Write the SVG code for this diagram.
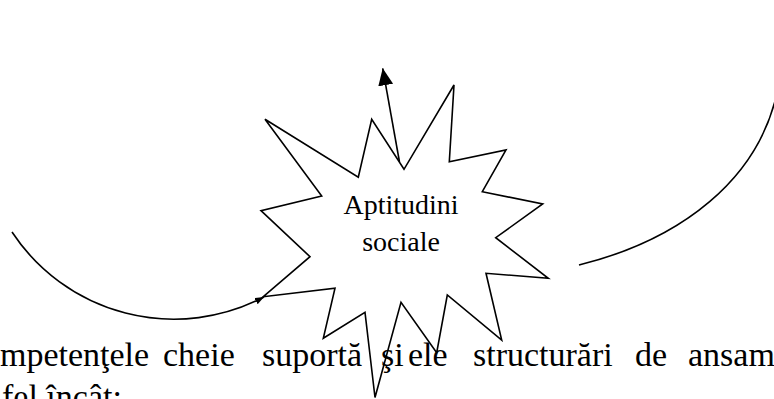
<svg xmlns="http://www.w3.org/2000/svg" width="774" height="399" viewBox="0 0 774 399">
<style>
.ln{fill:none;stroke:#000;stroke-width:1.6}
.star{fill:#fff;stroke:#000;stroke-width:1.6;stroke-linejoin:miter}
.lbl{font-family:"Liberation Serif","Times New Roman",serif;font-size:28px;fill:#000}
.body{font-family:"Liberation Serif","Times New Roman",serif;font-size:34px;fill:#000}
</style>
<defs>
<marker id="ah" markerUnits="userSpaceOnUse" markerWidth="18" markerHeight="16" refX="17" refY="7.5" orient="auto">
<path d="M0,0 L17,7.5 L0,15 z" fill="#000"/>
</marker>
<marker id="ahs" markerUnits="userSpaceOnUse" markerWidth="10" markerHeight="8" refX="9" refY="3.5" orient="auto">
<path d="M0,0 L9,3.5 L0,7 z" fill="#000"/>
</marker>
</defs>
<rect width="774" height="399" fill="#fff"/>
<g id="connectors">
<path class="ln" d="M 12 232 A 194 194 0 0 0 264 297" marker-end="url(#ahs)"/>
<path class="ln" d="M 579 265 C 680 240, 760 180, 778 88"/>
<path class="ln" d="M 399.5 162 L 382.7 68.3" marker-end="url(#ah)"/>
</g>
<g id="node-aptitudini">
<polygon class="star" points="454,85 449.3,161.7 506,150 482.3,191.7 542.7,204 495.7,237.7 548.3,278.3 486,273.3 501.7,340 447.3,295 436.7,352.7 401,302.3 375,397.5 365,312.3 323.3,338.3 335,288.3 263.3,296.7 310,256.7 261,210.7 321.7,196 265,119.3 358.3,177.3 371.7,119.3 404,169.3"/>
<text class="lbl" x="401" y="214" text-anchor="middle">Aptitudini</text>
<text class="lbl" x="401" y="251" text-anchor="middle">sociale</text>
</g>
<g id="body-text" class="body">
<text x="0" y="366">mpetenţele</text>
<text x="163" y="366">cheie</text>
<text x="262" y="366">suportă</text>
<text x="381" y="366">şi</text>
<text x="408" y="366">ele</text>
<text x="473" y="366">structurări</text>
<text x="635" y="366">de</text>
<text x="688" y="366">ansam</text>
<text x="2" y="408">fel încât;</text>
</g>
</svg>
